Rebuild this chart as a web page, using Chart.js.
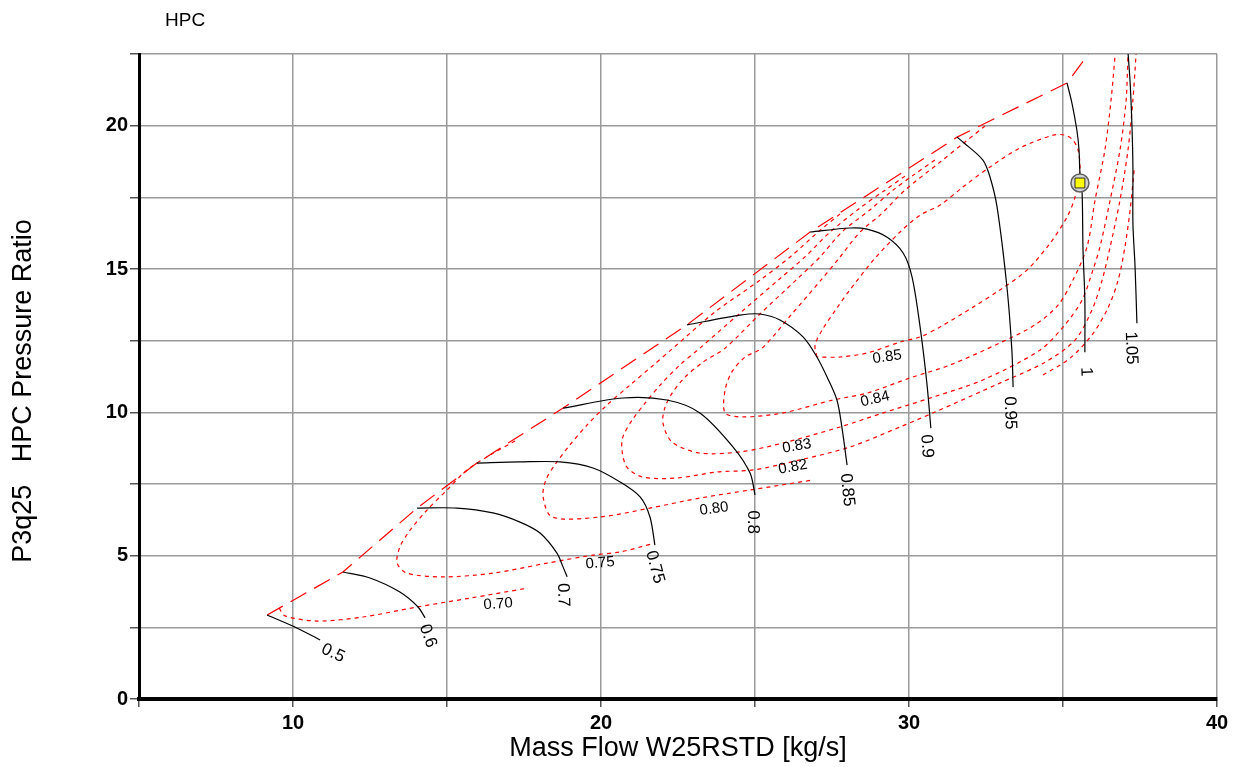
<!DOCTYPE html>
<html><head><meta charset="utf-8">
<script src="https://cdn.jsdelivr.net/npm/chart.js@4.4.1/dist/chart.umd.min.js"></script>
<style>html,body{margin:0;padding:0;background:#fff;overflow:hidden}canvas{display:block}</style>
</head><body>
<canvas id="c" width="1234" height="767"></canvas>
<script>
// ---- axis ticks ----
const xTickLabels = [10, 20, 30, 40];
const yTickLabels = [0, 5, 10, 15, 20];

// ---- surge line ----
const surgeLine = [[9.16,2.93],[11.62,4.43],[14.03,6.66],[15.97,8.23],[18.77,10.15],[22.79,13.05],[26.79,16.29],[31.56,19.60],[35.13,21.49],[36.04,22.81]];

// ---- speed lines ----
const speed050 = [[9.16,2.93],[10.06,2.51],[10.88,2.06]];
const speed060 = [[11.62,4.43],[12.50,4.22],[13.47,3.73],[14.06,3.21],[14.29,2.83]];
const speed070 = [[14.03,6.66],[15.32,6.66],[16.49,6.49],[17.37,6.17],[18.02,5.79],[18.57,5.09],[18.77,4.60],[18.90,4.26]];
const speed075 = [[15.97,8.23],[17.37,8.27],[18.67,8.27],[19.74,8.06],[20.62,7.57],[21.27,7.05],[21.59,6.35],[21.75,5.37]];
const speed080 = [[18.77,10.15],[20.71,10.50],[22.14,10.43],[23.21,9.98],[24.29,8.79],[24.84,7.88],[25.00,7.12]];
const speed085 = [[22.79,13.05],[24.51,13.39],[25.16,13.43],[25.81,13.22],[26.56,12.63],[27.01,11.93],[27.34,11.23],[27.66,10.43],[27.82,9.49],[27.99,8.16]];
const speed090 = [[26.79,16.29],[28.08,16.43],[28.64,16.39],[29.29,16.11],[29.81,15.56],[30.10,14.72],[30.36,12.98],[30.58,11.02],[30.71,9.45]];
const speed095 = [[31.56,19.60],[31.75,19.43],[32.40,18.80],[32.63,18.21],[32.86,17.16],[33.18,14.37],[33.34,12.17],[33.38,10.88]];
const speed100 = [[35.13,21.49],[35.29,20.79],[35.45,19.85],[35.52,19.15],[35.55,18.35],[35.62,17.65],[35.65,15.66],[35.71,13.92],[35.71,12.10]];
const speed105 = [[37.08,22.99],[37.18,21.49],[37.24,19.95],[37.27,18.56],[37.27,16.60],[37.34,15.07],[37.40,13.11]];

// ---- efficiency contours ----
const eff070 = [[9.55,3.17],[9.74,2.90],[10.78,2.72],[12.27,2.86],[14.03,3.21],[15.75,3.52],[17.63,3.87]];
const eff075 = [[17.21,9.00],[16.40,8.51],[15.65,7.99],[15.00,7.29],[14.35,6.59],[13.80,5.89],[13.47,5.30],[13.38,4.74],[13.70,4.39],[14.87,4.26],[16.49,4.39],[18.25,4.74],[19.74,5.02],[20.62,5.13],[21.75,5.44]];
const eff080 = [[27.76,16.92],[27.05,16.29],[26.14,15.42],[25.16,14.61],[23.70,13.50],[22.34,12.24],[21.66,11.61],[20.94,10.95],[20.19,10.25],[19.55,9.56],[18.99,8.86],[18.54,8.23],[18.21,7.64],[18.12,7.05],[18.41,6.35],[19.97,6.35],[21.59,6.66],[23.21,7.01],[24.84,7.29],[26.88,7.64]];
const eff080b = [[34.35,11.30],[35.23,11.89],[35.94,12.70],[36.46,13.64],[36.79,14.61],[37.01,15.77],[37.18,17.06],[37.31,18.45]];
const eff082 = [[29.87,18.24],[29.22,17.75],[28.41,17.13],[27.44,16.29],[26.62,15.42],[25.75,14.61],[24.51,13.46],[23.21,12.24],[22.56,11.65],[21.92,10.95],[21.43,10.32],[21.01,9.73],[20.71,9.14],[20.68,8.69],[20.84,8.09],[21.36,7.74],[22.47,7.71],[23.77,7.92],[24.94,7.99],[26.46,8.34],[28.08,8.79],[29.71,9.49],[30.78,9.98],[32.95,11.02],[34.42,11.75],[35.39,12.52],[35.94,13.57],[36.27,14.61],[36.53,15.77],[36.85,17.40],[37.11,19.15],[37.27,20.89],[37.37,22.46],[37.40,22.99]];
const eff083 = [[30.84,18.80],[30.19,18.31],[29.48,17.75],[28.73,17.06],[27.82,16.29],[27.11,15.42],[26.33,14.61],[25.16,13.43],[24.03,12.24],[23.31,11.75],[22.73,11.23],[22.31,10.67],[22.08,10.18],[22.01,9.63],[22.31,8.96],[23.21,8.58],[24.51,8.62],[25.91,8.93],[27.76,9.49],[29.16,9.98],[30.78,10.53],[32.40,11.13],[34.25,12.17],[35.06,13.05],[35.62,13.92],[35.97,14.96],[36.20,15.77],[36.53,17.40],[36.85,19.15],[37.05,20.89],[37.11,22.46],[37.14,22.99]];
const eff084 = [[32.47,19.99],[31.82,19.43],[31.01,18.73],[29.87,17.75],[29.06,16.88],[28.41,16.29],[27.76,15.42],[27.14,14.61],[26.14,13.36],[25.23,12.24],[24.68,11.93],[24.25,11.41],[24.03,10.78],[24.03,9.98],[24.61,9.84],[25.91,9.98],[27.53,10.43],[28.64,10.67],[30.03,11.20],[31.33,11.65],[32.95,12.42],[34.09,13.05],[34.84,13.74],[35.32,14.61],[35.78,15.77],[36.04,17.40],[36.36,19.15],[36.56,20.89],[36.69,22.46],[36.72,22.99]];
const eff085 = [[27.01,11.93],[26.95,12.35],[27.18,12.87],[27.66,13.64],[28.08,14.27],[28.90,15.38],[29.71,16.29],[30.36,16.88],[31.01,17.23],[31.75,17.86],[32.63,18.56],[33.60,19.22],[34.68,19.67],[35.06,19.67],[35.32,19.50],[35.49,19.15],[35.55,18.45],[35.39,17.51],[35.13,16.81],[34.58,15.90],[33.83,14.96],[32.95,14.27],[32.08,13.67],[31.01,12.98],[30.36,12.63],[29.71,12.45],[28.64,12.07],[27.76,11.93],[27.01,11.93]];

// ---- operating point ----
const operatingPoint = [[35.55,18.0]];

// ---- curve labels [text, x, y] ----
const speedLabels = [['0.5',11.30,1.60],['0.6',14.38,2.20],['0.7',18.77,3.63],['0.75',21.75,4.60],['0.8',24.94,6.17],['0.85',27.99,7.29],['0.9',30.58,8.82],['0.95',33.28,9.98],['1',35.75,11.41],['1.05',37.21,12.24]];
const effLabels = [['0.70',16.66,3.31],['0.75',19.97,4.74],['0.80',23.67,6.63],['0.82',26.23,8.09],['0.83',26.36,8.82],['0.84',28.90,10.46],['0.85',29.29,11.93]];

// ---- styles ----
const speedLabelAngles = [25,70,88,75,90,84,86,88,88,88];
const effLabelAngles = [-4,-5,-8,-10,-10,-13,-8];
const FONT = '"Liberation Sans", Arial, sans-serif';

const toPts = a => a.map(p => ({x:p[0], y:p[1]}));
const speedSets = [speed050,speed060,speed070,speed075,speed080,speed085,speed090,speed095,speed100,speed105];
const effSets = [eff070,eff075,eff080,eff080b,eff082,eff083,eff084,eff085];

const datasets = [];
datasets.push({data:toPts(operatingPoint), pointStyle:'rect', pointRadius:7, backgroundColor:'#ffff00', borderColor:'#303030', borderWidth:1, showLine:false});
datasets.push({data:toPts(operatingPoint), pointStyle:'circle', pointRadius:9, backgroundColor:'#d4d4d4', borderColor:'#606060', borderWidth:1.5, showLine:false});
speedSets.forEach(s => datasets.push({data:toPts(s), showLine:true, borderColor:'#000', borderWidth:1.2, pointRadius:0, tension:0.3, fill:false}));
effSets.forEach(s => datasets.push({data:toPts(s), showLine:true, borderColor:'#ff0000', borderWidth:1.2, borderDash:[4,4], pointRadius:0, tension:0.3, fill:false}));
datasets.push({data:toPts(surgeLine), showLine:true, borderColor:'#ff0000', borderWidth:1.2, borderDash:[18,9], pointRadius:0, tension:0, fill:false});

const textPlugin = {
  id:'texts',
  afterDraw(chart){
    const ctx = chart.ctx, sx = chart.scales.x, sy = chart.scales.y;
    ctx.save();
    ctx.fillStyle = '#000';
    ctx.textAlign = 'center'; ctx.textBaseline = 'middle';
    ctx.font = '17px ' + FONT;
    speedLabels.forEach((l,i) => {
      ctx.save();
      ctx.translate(sx.getPixelForValue(l[1]), sy.getPixelForValue(l[2]));
      ctx.rotate(speedLabelAngles[i]*Math.PI/180);
      ctx.fillText(l[0],0,0);
      ctx.restore();
    });
    ctx.font = '15px ' + FONT;
    effLabels.forEach((l,i) => {
      ctx.save();
      ctx.translate(sx.getPixelForValue(l[1]), sy.getPixelForValue(l[2]));
      ctx.rotate(effLabelAngles[i]*Math.PI/180);
      ctx.fillText(l[0],0,0);
      ctx.restore();
    });
    // chart caption
    ctx.font = '19px ' + FONT;
    ctx.textAlign = 'left';
    ctx.fillText('HPC', 165, 21);
    // axis titles
    ctx.font = '27px ' + FONT;
    ctx.textAlign = 'center';
    ctx.fillText('Mass Flow W25RSTD [kg/s]', (chart.chartArea.left+chart.chartArea.right)/2, 749);
    ctx.save();
    ctx.translate(24, 391);
    ctx.rotate(-Math.PI/2);
    ctx.fillText('P3q25   HPC Pressure Ratio', 0, 0);
    ctx.restore();
    ctx.restore();
  }
};

new Chart(document.getElementById('c'), {
  type:'scatter',
  data:{datasets},
  options:{
    responsive:false, animation:false,
    layout:{padding:{left:0,right:17,top:54,bottom:0}},
    plugins:{legend:{display:false}, tooltip:{enabled:false}},
    scales:{
      x:{type:'linear', min:5, max:40,
        afterFit(s){ s.height = 68; },
        ticks:{stepSize:5, padding:4, color:'#000', font:{family:FONT, size:20, weight:'bold'},
          callback:v => xTickLabels.includes(v) ? String(v) : ''},
        grid:{color:'#9a9a9a', lineWidth:1.5, tickLength:8, tickColor:'#555'},
        border:{color:'#000', width:4}},
      y:{type:'linear', min:0, max:22.5,
        afterFit(s){ s.width = 139; },
        ticks:{stepSize:2.5, padding:2, color:'#000', font:{family:FONT, size:20, weight:'bold'},
          callback:v => yTickLabels.includes(v) ? String(v) : ''},
        grid:{color:'#9a9a9a', lineWidth:1.5, tickLength:9, tickColor:'#555'},
        border:{color:'#000', width:3}}
    }
  },
  plugins:[textPlugin]
});
</script>
</body></html>
